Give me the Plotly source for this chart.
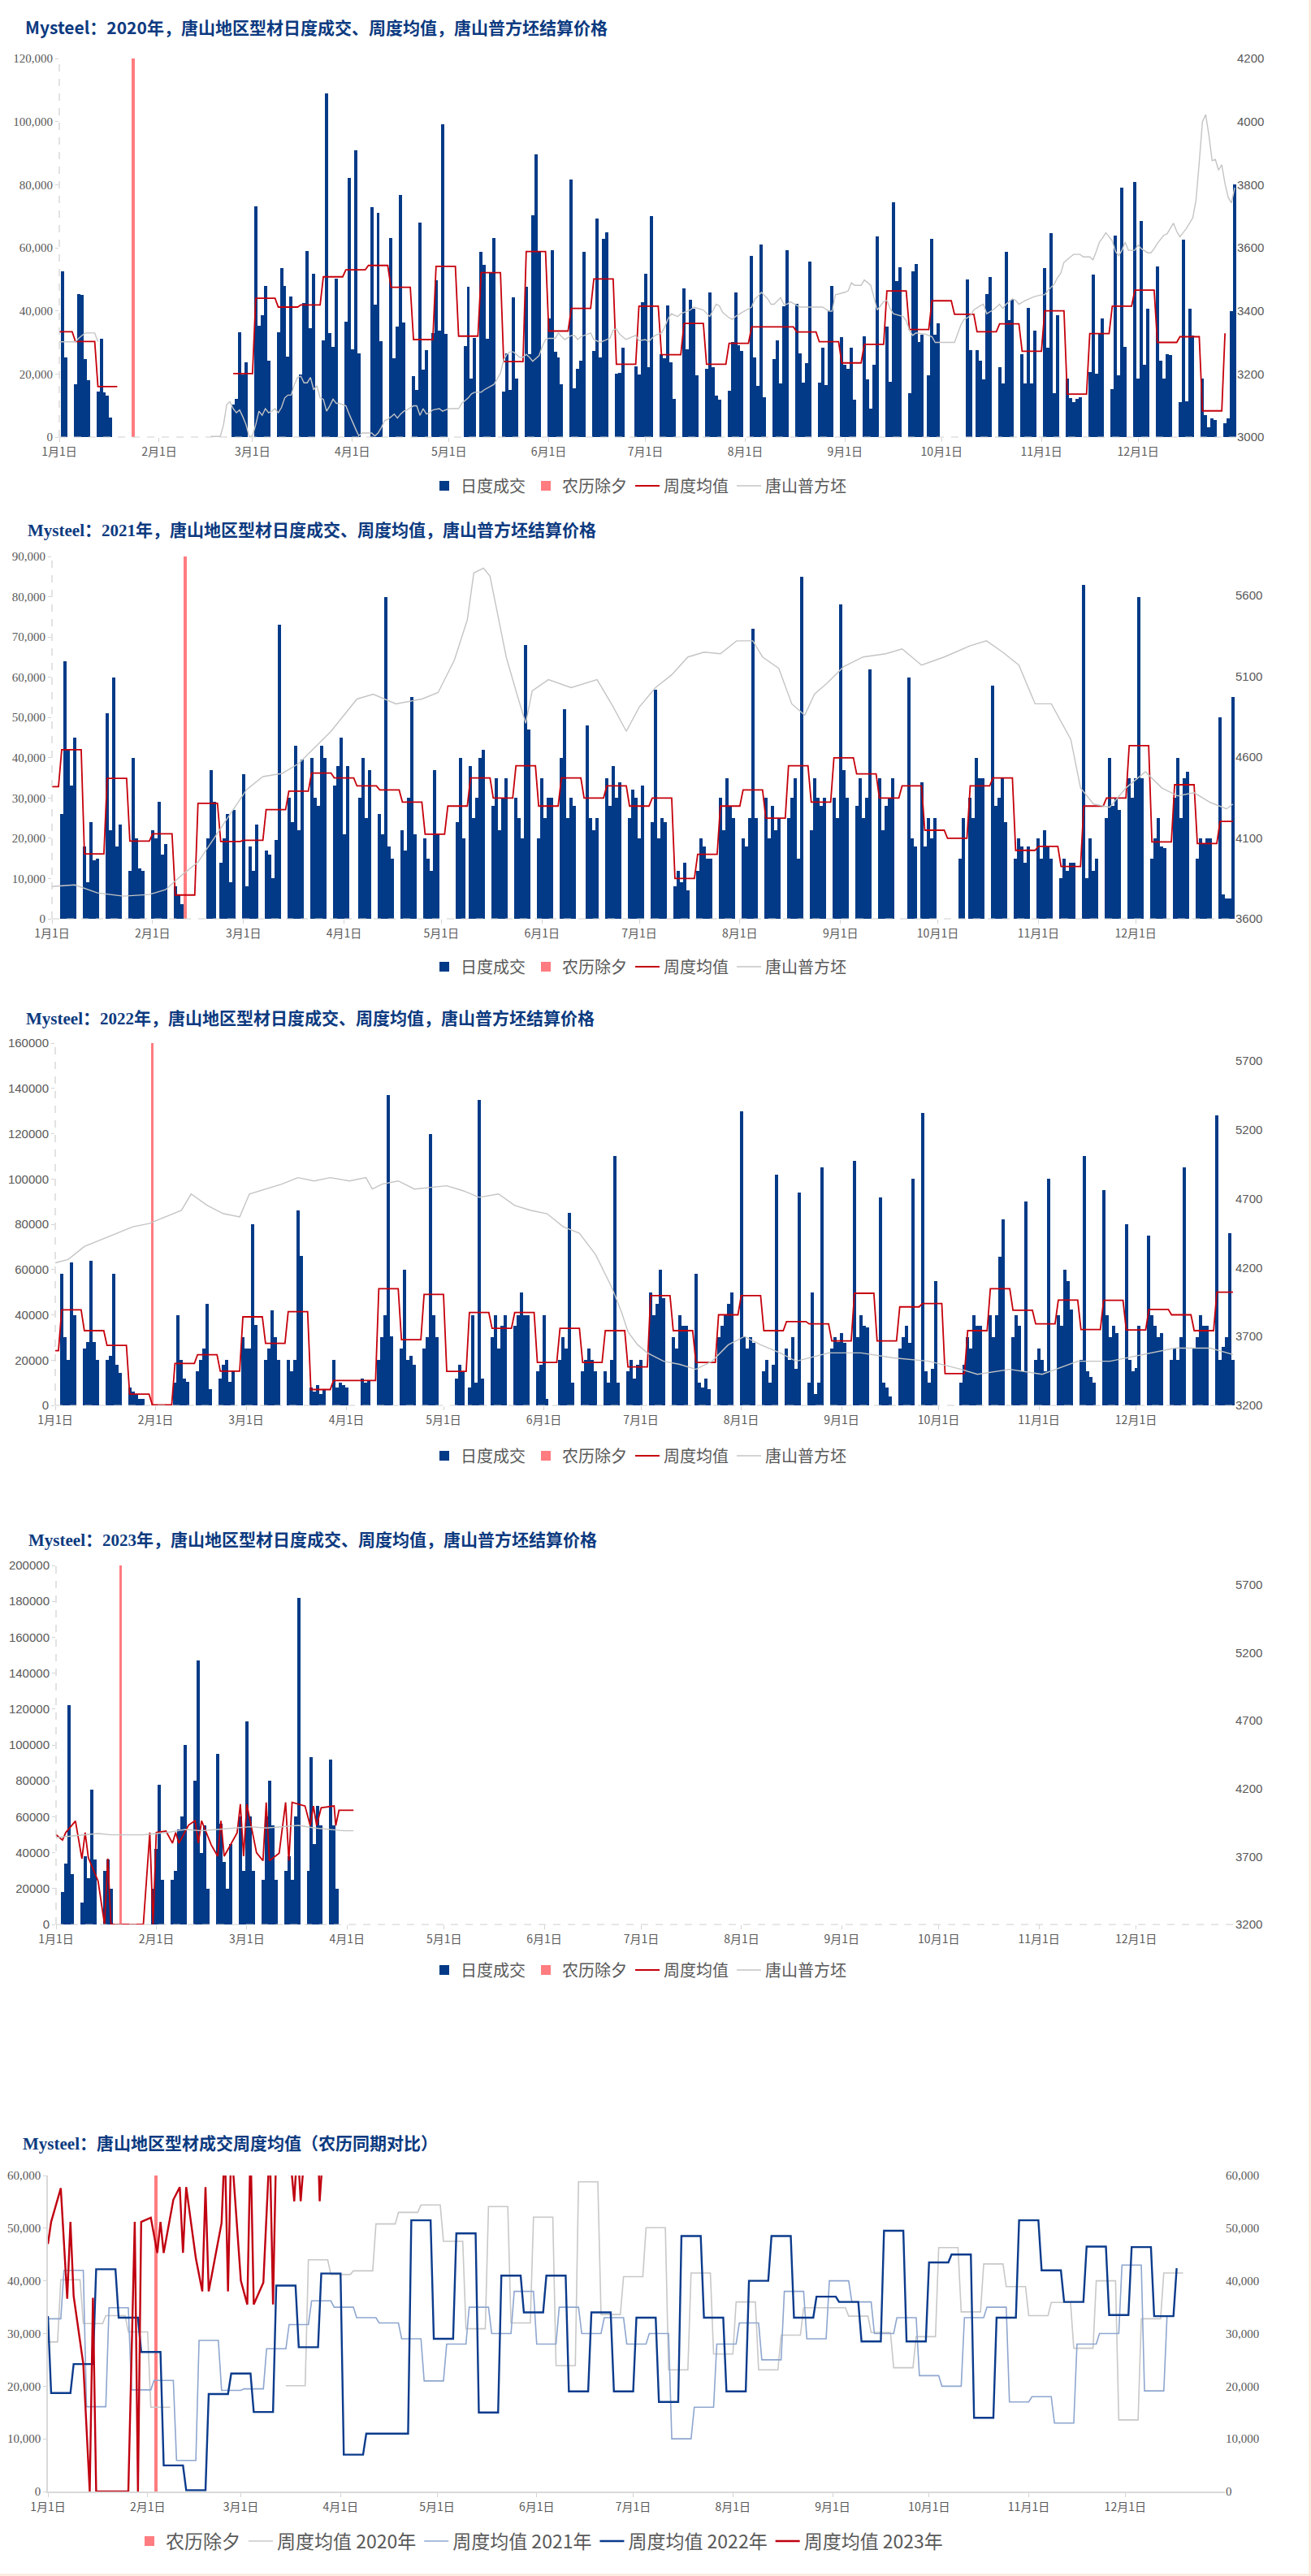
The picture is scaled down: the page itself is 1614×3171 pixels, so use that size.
import datetime as dt
import plotly.graph_objects as go

W, H = 1614, 3171
NAVY = "#023a87"
SALMON = "#ff7c80"
RED = "#c5000b"
GRAY = "#c4c4c4"
TXT = "#595959"
TITLE_C = "#0c3a80"

# ======================= Panel 1 : 2020 =======================
WK20 = ["2019-12-30", "2020-01-06", "2020-01-13", "2020-02-24", "2020-03-02", "2020-03-09", "2020-03-16",
        "2020-03-23", "2020-03-30", "2020-04-06", "2020-04-13", "2020-04-20", "2020-04-27", "2020-05-04",
        "2020-05-11", "2020-05-18", "2020-05-25", "2020-06-01", "2020-06-08", "2020-06-15", "2020-06-22",
        "2020-06-29", "2020-07-06", "2020-07-13", "2020-07-20", "2020-07-27", "2020-08-03", "2020-08-10",
        "2020-08-17", "2020-08-24", "2020-08-31", "2020-09-07", "2020-09-14", "2020-09-21", "2020-09-28",
        "2020-10-05", "2020-10-12", "2020-10-19", "2020-10-26", "2020-11-02", "2020-11-09", "2020-11-16",
        "2020-11-23", "2020-11-30", "2020-12-07", "2020-12-14", "2020-12-21", "2020-12-28"]
DAY20 = [
    [0, 0, 0, 52600, 25300, 0, 0], [16700, 45400, 45150, 24800, 18100, 0, 0], [14500, 31250, 14150, 13200, 6270, 0, 0],
    [10300, 12200, 33300, 19740, 23800, 0, 0], [73200, 35200, 38700, 48000, 24300, 0, 0], [33300, 53650, 48000, 25600, 44600, 0, 0],
    [19800, 42600, 59100, 34600, 51800, 0, 0], [30700, 109000, 33000, 28700, 50100, 0, 0], [36650, 82200, 27700, 91000, 26600, 0, 0],
    [0, 73000, 42100, 71200, 30500, 0, 0], [63200, 25100, 34900, 76800, 36400, 0, 0], [19400, 15000, 68100, 21500, 27600, 0, 32900],
    [49800, 33800, 99100, 32600, 0, 0, 0], [0, 0, 28900, 47700, 18600, 31500, 0], [58800, 54700, 31200, 52100, 63200, 0, 0],
    [14300, 26600, 14850, 44400, 18600, 0, 0], [47700, 26300, 70400, 89700, 58800, 0, 0], [37700, 59300, 27100, 25300, 16700, 0, 0],
    [81700, 15500, 21700, 24300, 58800, 0, 0], [27400, 69400, 25300, 62900, 65000, 0, 0], [20200, 20400, 28400, 0, 0, 0, 22500],
    [19900, 42800, 51800, 22200, 70100, 0, 0], [26350, 25100, 41800, 23800, 12200, 0, 0], [47200, 27900, 43400, 40800, 19700, 0, 0],
    [21700, 45900, 22200, 13200, 11900, 0, 0], [14800, 30200, 45900, 29200, 27400, 0, 0], [57500, 25300, 16100, 61100, 12700, 0, 0],
    [24800, 30700, 17100, 41500, 59300, 0, 0], [42300, 26600, 17300, 23500, 55700, 0, 0], [17300, 28200, 16600, 40300, 48000, 0, 0],
    [31800, 23000, 21700, 28400, 11900, 0, 0], [32000, 18400, 9100, 23000, 63700, 0, 0], [34900, 17600, 74500, 49500, 53900, 0, 0],
    [14000, 52600, 54900, 30200, 32500, 0, 19700], [62900, 32500, 36100, 0, 0, 0, 0], [0, 0, 0, 0, 50000, 27600, 0],
    [27600, 24300, 18400, 45200, 50800, 0, 0], [22200, 17100, 58800, 37200, 43400, 0, 0], [26350, 17100, 41000, 17100, 33800, 0, 0],
    [53650, 28200, 64700, 14000, 38700, 0, 0], [18600, 12400, 11200, 12200, 12700, 0, 0], [20700, 51600, 20200, 32800, 37700, 0, 0],
    [15300, 63950, 19700, 79100, 28700, 0, 0], [80900, 18600, 68600, 23000, 40800, 0, 0], [54200, 24300, 18600, 26350, 26100, 0, 0],
    [11200, 62700, 11400, 40800, 32300, 0, 0], [18600, 7000, 3200, 6000, 5500, 0, 0], [4500, 6000, 40000, 80200, 0, 0, 0]]
AVG20 = [33400, 30300, 16000, 20100, 44000, 41200, 41900, 50800, 53000, 54400, 47500, 30900, 54100, 32000,
         52100, 23900, 58800, 33600, 40800, 50100, 23100, 41500, 26100, 36000, 23100, 29700, 34900, 34900,
         33300, 30200, 23500, 29400, 46300, 34100, 43200, 38900, 33400, 35900, 27200, 40000, 13600, 32800,
         41500, 46600, 30000, 31800, 8300, 32900]
AVG20_END = "2020-12-28"
CNY20 = "2020-01-24"
P20_DAY = [0, 5, 6, 8, 11, 12, 33, 47, 50, 51, 52, 53, 54, 55, 56, 57, 58, 59, 60, 61, 62, 63, 64, 65, 66, 67, 68, 69, 70,
           71, 72, 73, 74, 75, 76, 77, 78, 79, 80, 81, 82, 83, 84, 85, 86, 87, 88, 89, 90, 91, 92, 93, 94, 97, 98, 99, 100,
           101, 102, 103, 104, 105, 106, 107, 108, 110, 111, 112, 113, 114, 115, 116, 118, 119, 120, 121, 124, 125, 127,
           128, 129, 131, 132, 134, 135, 137, 138, 139, 140, 141, 143, 144, 145, 146, 147, 149, 150, 151, 152, 154, 155,
           156, 157, 159, 160, 161, 162, 163, 165, 166, 167, 168, 169, 171, 172, 173, 174, 175, 176, 179, 180, 182, 183,
           184, 185, 187, 188, 189, 190, 192, 193, 194, 196, 197, 200, 202, 203, 204, 205, 206, 208, 209, 210, 212, 215,
           216, 217, 218, 220, 221, 222, 224, 225, 226, 227, 230, 233, 237, 239, 240, 241, 244, 245, 246, 247, 249, 250,
           252, 253, 254, 256, 257, 258, 259, 262, 263, 264, 265, 266, 269, 271, 272, 278, 280, 281, 282, 283, 284, 286,
           287, 288, 290, 291, 292, 293, 294, 296, 297, 298, 300, 303, 305, 306, 307, 309, 310, 311, 312, 314, 315, 317,
           318, 320, 321, 322, 323, 324, 325, 327, 328, 329, 330, 331, 332, 334, 335, 336, 338, 339, 340, 341, 343, 344,
           346, 347, 348, 349, 350, 352, 353, 354, 355, 356, 357, 358, 359, 360, 361, 362, 363, 364, 365]
P20 = [3302, 3302, 3313, 3330, 3330, 3302, 3302, 3002, 3002, 3039, 3103, 3112, 3090, 3077, 3086, 3064, 3039, 3000, 3004,
       3039, 3082, 3069, 3090, 3077, 3082, 3090, 3077, 3094, 3124, 3133, 3133, 3167, 3189, 3193, 3172, 3172, 3189, 3150,
       3163, 3124, 3120, 3082, 3099, 3120, 3107, 3107, 3103, 3099, 3073, 3047, 3026, 3004, 3013, 3013, 3003, 3013, 3030,
       3052, 3056, 3064, 3073, 3060, 3073, 3082, 3086, 3099, 3099, 3069, 3090, 3073, 3077, 3086, 3090, 3082, 3086, 3090,
       3090, 3107, 3124, 3137, 3142, 3142, 3150, 3160, 3167, 3202, 3245, 3262, 3270, 3270, 3253, 3253, 3262, 3253, 3240,
       3258, 3288, 3309, 3313, 3313, 3330, 3318, 3309, 3322, 3322, 3309, 3318, 3322, 3330, 3309, 3305, 3300, 3305, 3313,
       3339, 3343, 3326, 3318, 3309, 3322, 3305, 3309, 3302, 3313, 3322, 3330, 3348, 3373, 3391, 3382, 3391, 3395, 3403,
       3412, 3403, 3382, 3403, 3421, 3416, 3395, 3378, 3373, 3382, 3395, 3412, 3438, 3446, 3459, 3438, 3421, 3421, 3442,
       3421, 3421, 3429, 3412, 3412, 3412, 3399, 3399, 3451, 3459, 3464, 3489, 3481, 3481, 3498, 3481, 3442, 3403, 3429,
       3433, 3408, 3391, 3382, 3369, 3339, 3322, 3330, 3326, 3318, 3300, 3300, 3356, 3373, 3378, 3386, 3403, 3416, 3421,
       3391, 3403, 3412, 3421, 3408, 3421, 3438, 3433, 3421, 3433, 3446, 3451, 3451, 3464, 3485, 3506, 3519, 3554, 3571,
       3579, 3579, 3571, 3571, 3562, 3588, 3618, 3631, 3648, 3622, 3588, 3575, 3592, 3618, 3592, 3592, 3609, 3597, 3584,
       3584, 3597, 3614, 3640, 3644, 3678, 3652, 3635, 3648, 3661, 3695, 3751, 3871, 4000, 4022, 3957, 3876, 3880, 3846,
       3863, 3803, 3760, 3742, 3790]

# ======================= Panel 2 : 2021 =======================
WK21 = ["2020-12-28", "2021-01-04", "2021-01-11", "2021-01-18", "2021-01-25", "2021-02-01", "2021-02-08",
        "2021-02-15", "2021-02-22", "2021-03-01", "2021-03-08", "2021-03-15", "2021-03-22", "2021-03-29",
        "2021-04-05", "2021-04-12", "2021-04-19", "2021-04-26", "2021-05-03", "2021-05-10", "2021-05-17",
        "2021-05-24", "2021-05-31", "2021-06-07", "2021-06-14", "2021-06-21", "2021-06-28", "2021-07-05",
        "2021-07-12", "2021-07-19", "2021-07-26", "2021-08-02", "2021-08-09", "2021-08-16", "2021-08-23",
        "2021-08-30", "2021-09-06", "2021-09-13", "2021-09-20", "2021-09-27", "2021-10-04", "2021-10-11",
        "2021-10-18", "2021-10-25", "2021-11-01", "2021-11-08", "2021-11-15", "2021-11-22", "2021-11-29",
        "2021-12-06", "2021-12-13", "2021-12-20", "2021-12-27"]
DAY21 = [
    [0, 0, 0, 0, 0, 0, 0], [26000, 64000, 42000, 33000, 45000, 0, 0], [18000, 9000, 24000, 14500, 15000, 0, 0],
    [51000, 22000, 60000, 18000, 23500, 0, 0], [12000, 40000, 20000, 12500, 12000, 0, 0], [22000, 20000, 29000, 16000, 18500, 0, 0],
    [8000, 6000, 3700, 0, 0, 0, 0], [0, 0, 0, 20000, 37000, 29100, 0], [14000, 20000, 26000, 9000, 27000, 0, 0],
    [36000, 8000, 18000, 12000, 23500, 0, 0], [17000, 16000, 10000, 19500, 73000, 0, 0], [30000, 24000, 43000, 22000, 39500, 0, 0],
    [40000, 30000, 28000, 43000, 40000, 0, 0], [33000, 38000, 45000, 21000, 38000, 0, 0], [0, 30000, 40000, 25000, 37000, 0, 0],
    [26000, 21000, 80000, 18000, 15000, 0, 0], [22000, 17000, 30000, 55000, 21000, 0, 0], [20000, 15000, 12000, 37000, 21000, 0, 0],
    [0, 0, 0, 24000, 40000, 20000, 0], [38000, 25000, 30000, 40000, 42000, 0, 0], [28000, 35000, 22000, 30000, 35000, 0, 0],
    [30000, 25000, 20000, 68000, 47000, 0, 0], [20000, 35000, 25000, 30000, 30000, 0, 0], [40000, 52000, 25000, 30000, 28000, 0, 0],
    [0, 48000, 25000, 22000, 25000, 0, 0], [35000, 28000, 38000, 30000, 34000, 0, 0], [25000, 32000, 30000, 20000, 33000, 0, 0],
    [24000, 57000, 20000, 25000, 24000, 0, 0], [8000, 12000, 9000, 14000, 7000, 0, 0], [12000, 20000, 18000, 15000, 15000, 0, 0],
    [30000, 22000, 35000, 28000, 25000, 0, 0], [20000, 18000, 25000, 72000, 25000, 0, 0], [30000, 20000, 28000, 22000, 25000, 0, 0],
    [25000, 30000, 35000, 15000, 85000, 0, 0], [22000, 35000, 30000, 28000, 30000, 0, 0], [30000, 25000, 78000, 37000, 30000, 0, 0],
    [28000, 35000, 25000, 30000, 62000, 0, 0], [35000, 22000, 28000, 30000, 35000, 0, 0], [0, 0, 60000, 20000, 18000, 0, 34000],
    [18000, 25000, 20000, 25000, 0, 0, 0], [0, 0, 0, 0, 15000, 25000, 0], [30000, 25000, 40000, 35000, 35000, 0, 0],
    [58000, 28000, 30000, 35000, 24000, 0, 0], [15000, 20000, 18000, 14000, 18000, 0, 0], [20000, 15000, 22000, 18000, 15000, 0, 0],
    [10000, 15000, 12000, 14000, 14000, 0, 0], [83000, 10000, 20000, 12000, 15000, 0, 0], [25000, 40000, 28000, 30000, 27000, 0, 0],
    [35000, 30000, 35000, 80000, 35000, 0, 0], [15000, 20000, 25000, 18000, 17500, 0, 0], [30000, 40000, 25000, 35000, 36500, 0, 0],
    [15000, 20000, 18500, 20000, 20000, 0, 0], [50000, 6000, 5000, 5000, 55000, 0, 0]]
AVG21 = [32800, 42000, 16100, 34900, 19300, 21100, 5900, 28700, 19200, 19500, 27100, 31700, 36200, 35000,
         33000, 32000, 29000, 21000, 28000, 35000, 30000, 38000, 28000, 35000, 30000, 33000, 28000, 30000,
         10000, 16000, 28000, 32000, 25000, 38000, 29000, 40000, 36000, 30000, 33000, 22000, 20000, 33000,
         35000, 17000, 18000, 13000, 28000, 30000, 43000, 19100, 33300, 18700, 24200]
AVG21_END = "2021-12-31"
CNY21 = "2021-02-11"
P21_DAY = [0, 7, 14, 22, 30, 35, 40, 45, 50, 55, 60, 65, 71, 76, 81, 86, 88, 94, 99, 106, 114, 119, 124, 128, 130, 133,
           135, 137, 140, 143, 146, 148, 153, 160, 168, 173, 177, 181, 186, 191, 196, 201, 206, 211, 216, 219, 224, 228,
           232, 235, 239, 244, 250, 257, 262, 268, 275, 283, 288, 293, 298, 303, 308, 314, 317, 321, 326, 331, 337, 342,
           347, 352, 357, 362, 364]
P21 = [3800, 3810, 3760, 3740, 3750, 3780, 3870, 3950, 4100, 4250, 4400, 4480, 4500, 4560, 4660, 4760, 4810, 4960, 4990,
       4930, 4960, 5000, 5200, 5450, 5740, 5770, 5720, 5520, 5220, 5010, 4810, 5010, 5080, 5030, 5080, 4910, 4760, 4910,
       5030, 5110, 5220, 5250, 5240, 5320, 5320, 5220, 5150, 4930, 4860, 4990, 5060, 5160, 5220, 5240, 5270, 5170, 5220,
       5290, 5320, 5250, 5170, 4930, 4930, 4710, 4410, 4310, 4290, 4410, 4510, 4410, 4360, 4380, 4320, 4280, 4310]

# ======================= Panel 3 : 2022 =======================
WK22 = ["2021-12-27", "2022-01-03", "2022-01-10", "2022-01-17", "2022-01-24", "2022-01-31", "2022-02-07",
        "2022-02-14", "2022-02-21", "2022-02-28", "2022-03-07", "2022-03-14", "2022-03-21", "2022-03-28",
        "2022-04-04", "2022-04-11", "2022-04-18", "2022-04-25", "2022-05-02", "2022-05-09", "2022-05-16",
        "2022-05-23", "2022-05-30", "2022-06-06", "2022-06-13", "2022-06-20", "2022-06-27", "2022-07-04",
        "2022-07-11", "2022-07-18", "2022-07-25", "2022-08-01", "2022-08-08", "2022-08-15", "2022-08-22",
        "2022-08-29", "2022-09-05", "2022-09-12", "2022-09-19", "2022-09-26", "2022-10-03", "2022-10-10",
        "2022-10-17", "2022-10-24", "2022-10-31", "2022-11-07", "2022-11-14", "2022-11-21", "2022-11-28",
        "2022-12-05", "2022-12-12", "2022-12-19", "2022-12-26"]
DAY22 = [
    [0, 0, 0, 0, 0, 0, 0], [58000, 30000, 20000, 63000, 40000, 0, 0], [25000, 28000, 64000, 28000, 20000, 0, 0],
    [20000, 22000, 58000, 18000, 14500, 0, 0], [8000, 6000, 5000, 3000, 2750, 0, 0], [0, 0, 0, 0, 0, 0, 0],
    [10000, 40000, 20000, 12000, 10500, 0, 0], [15000, 20000, 25000, 45000, 7000, 0, 0], [12000, 18000, 20000, 10500, 15000, 0, 0],
    [30000, 25000, 25000, 80000, 35500, 0, 0], [20000, 25000, 42000, 30000, 20000, 0, 0], [20000, 15000, 20000, 86000, 66000, 0, 0],
    [8000, 6000, 9000, 5000, 7000, 0, 0], [20000, 8000, 10000, 9000, 8000, 0, 0], [0, 0, 12000, 10000, 11000, 0, 0],
    [20000, 30000, 40000, 137000, 30500, 0, 0], [25000, 60000, 20000, 22000, 18000, 0, 0], [25000, 30000, 120000, 40000, 30000, 0, 0],
    [0, 0, 0, 12000, 18000, 15000, 0], [8000, 40000, 10000, 135000, 12000, 0, 0], [30000, 40000, 25000, 35000, 40000, 0, 0],
    [35000, 40000, 50000, 40000, 40000, 0, 0], [15000, 18000, 40000, 3000, 0, 0, 0], [20000, 30000, 25000, 85000, 10000, 0, 0],
    [15000, 20000, 25000, 20000, 15000, 0, 0], [15000, 10000, 20000, 110000, 10000, 0, 0], [15000, 20000, 12000, 18000, 20000, 0, 0],
    [50000, 40000, 45000, 60000, 47500, 0, 0], [30000, 25000, 40000, 35000, 35000, 0, 0], [58000, 10000, 8000, 12000, 7000, 0, 0],
    [30000, 35000, 40000, 45000, 50000, 0, 0], [130000, 30000, 25000, 30000, 27500, 0, 0], [15000, 20000, 10000, 18000, 102000, 0, 0],
    [25000, 20000, 30000, 16000, 94000, 0, 0], [10000, 50000, 5000, 10000, 105000, 0, 0], [25000, 30000, 28000, 32000, 27500, 0, 0],
    [108000, 30000, 40000, 35000, 34500, 0, 0], [0, 92000, 10000, 8000, 4000, 0, 0], [25000, 30000, 35000, 27500, 100000, 0, 0],
    [129000, 15000, 10000, 16000, 55000, 0, 0], [0, 0, 0, 0, 0, 10000, 18000], [30000, 25000, 40000, 35000, 35000, 0, 0],
    [40000, 30000, 40000, 65500, 82000, 0, 0], [30000, 40000, 35000, 15000, 90000, 0, 0], [20000, 25000, 20000, 15000, 100000, 0, 0],
    [40000, 35000, 60000, 55000, 42500, 0, 0], [20000, 110000, 15000, 12500, 10000, 0, 0], [95000, 40000, 30000, 35000, 32000, 0, 0],
    [80000, 20000, 15000, 16500, 35000, 0, 0], [75000, 40000, 35000, 30000, 32000, 0, 0], [20000, 25000, 20000, 30000, 105000, 0, 0],
    [25000, 30000, 40000, 35000, 35000, 0, 0], [128000, 20000, 26000, 30000, 76000, 20000, 0]]
AVG22 = [24200, 42200, 33000, 26500, 4950, 250, 18500, 22400, 15100, 39100, 27400, 41400, 7000, 11000,
         11000, 51500, 29000, 49000, 15000, 41000, 34000, 41000, 19000, 34000, 19000, 33000, 17000, 48500,
         33000, 19000, 40000, 48500, 33000, 37000, 36000, 28500, 49500, 28500, 43500, 45000, 14000, 33000,
         51500, 42000, 36000, 46500, 33500, 46400, 33300, 42400, 40000, 33000, 50000]
AVG22_END = "2022-12-31"
CNY22 = "2022-01-31"
P22_DAY = [0, 4, 9, 14, 19, 24, 29, 34, 39, 42, 47, 52, 57, 60, 65, 70, 75, 80, 85, 91, 96, 98, 101, 106, 111, 116, 121,
           126, 131, 137, 142, 147, 152, 157, 162, 167, 172, 175, 177, 180, 183, 188, 193, 198, 203, 208, 213, 218, 224,
           229, 239, 249, 259, 270, 280, 285, 295, 305, 316, 326, 336, 346, 357, 364]
P22 = [4235, 4260, 4354, 4402, 4450, 4497, 4521, 4569, 4616, 4735, 4652, 4592, 4569, 4735, 4771, 4807, 4854, 4830, 4854,
       4830, 4854, 4771, 4807, 4830, 4771, 4783, 4795, 4759, 4711, 4735, 4652, 4616, 4592, 4497, 4450, 4295, 4057, 3878,
       3735, 3640, 3581, 3521, 3498, 3462, 3521, 3640, 3700, 3640, 3581, 3521, 3581, 3581, 3545, 3521, 3462, 3426, 3462,
       3426, 3521, 3521, 3569, 3616, 3616, 3569]

# ======================= Panel 4 : 2023 =======================
WK23 = ["2023-01-02", "2023-01-09", "2023-01-16", "2023-01-30", "2023-02-06", "2023-02-13", "2023-02-20",
        "2023-02-27", "2023-03-06", "2023-03-13", "2023-03-20", "2023-03-27"]
DAY23 = [
    [0, 18000, 34000, 122000, 28000, 0, 0], [12000, 38000, 26000, 75000, 36000, 0, 0], [30000, 36000, 20000, 0, 0, 0, 0],
    [0, 20000, 42000, 78000, 25000, 0, 0], [25000, 30000, 53000, 60000, 100000, 0, 0], [80000, 147000, 40000, 55000, 20000, 0, 0],
    [95000, 56000, 35000, 20000, 45000, 0, 0], [60000, 30000, 113000, 60000, 30000, 0, 0], [25000, 60000, 80000, 55000, 25000, 0, 0],
    [30000, 38000, 25000, 60000, 182000, 0, 0], [30000, 93000, 45000, 66000, 55000, 0, 0], [92000, 55000, 20000, 0, 0, 0, 0]]
CNY23 = "2023-01-21"
AVG23_DAY = [0, 2, 3, 6, 8, 9, 10, 13, 15, 16, 17, 27, 29, 30, 31, 34, 36, 37, 38, 41, 43, 44, 45, 48, 50, 51, 52, 56,
             57, 58, 59, 62, 64, 65, 66, 69, 71, 72, 73, 77, 78.6, 79.6, 80.6, 82, 86, 86.5, 87.5, 92]
AVG23 = [50000, 47000, 51200, 57600, 36600, 51200, 37100, 24200, 0, 36800, 0, 0, 51200, 0, 51200, 52000, 45300, 51200,
         45300, 55400, 57800, 45300, 57800, 44300, 38000, 57800, 38000, 51000, 67000, 38000, 67000, 40000, 35500, 68000,
         35500, 39700, 68000, 35500, 68000, 66000, 55100, 66000, 55100, 65000, 66000, 55100, 63600, 63600]
P23_DAY = [0, 4, 9, 13, 17, 27, 31, 35, 40, 45, 50, 55, 60, 65, 70, 75, 80, 85, 89, 92]
P23 = [3840, 3850, 3860, 3870, 3860, 3860, 3870, 3880, 3900, 3890, 3900, 3910, 3920, 3910, 3920, 3930, 3910, 3900,
       3890, 3890]

# ======================= Panel 5 : lunar-aligned comparison =======================
PREV20_WK = ["2019-12-09", "2019-12-16", "2019-12-23"]
PREV20 = [28400, 40200, 31900]
PREV22_WK = ["2021-12-13", "2021-12-20"]
PREV22 = [33300, 18700]
SHIFT20, SHIFT21, SHIFT22 = 20, 2, 13      # days added so that the Spring Festivals line up
END20, END21, END22 = 353, 348, 351
C23_DAY = [0, 1, 4, 6, 7, 8, 11, 13, 14, 15, 25, 27, 28, 29, 32, 34, 35, 36, 39, 41, 42, 43, 46, 48, 49, 50, 54, 55,
           56, 57, 60, 62, 63, 64, 67, 69, 70, 71, 75, 76.6, 77.6, 78.6, 80, 84, 84.5, 85.5]
C23 = [47000, 51200, 57600, 36600, 51200, 37100, 24200, 0, 36800, 0, 0, 51200, 0, 51200, 52000, 45300, 51200, 45300,
       55400, 57800, 45300, 57800, 44300, 38000, 57800, 38000, 51000, 66000, 38000, 66000, 40000, 35500, 66000, 35500,
       39700, 66000, 35500, 66000, 66000, 55100, 66000, 55100, 66000, 66000, 55100, 64000]
CNY_CMP = 33.6

MONTH_TEXT = [f"{m}月1日" for m in range(1, 13)]
DAY_MS = 86400000


def D(s):
    return dt.date.fromisoformat(s)


def bars_from_weeks(weeks, days):
    xs, ys = [], []
    for w, vals in zip(weeks, days):
        st = D(w)
        for i, v in enumerate(vals):
            if v:
                xs.append(st + dt.timedelta(days=i))
                ys.append(v)
    return xs, ys


def weekly_steps(weeks, avgs, year, last):
    xs, ys = [], []
    prev = None
    first = dt.date(year, 1, 1)
    last = D(last)
    for w, a in zip(weeks, avgs):
        st = D(w)
        if prev is not None and (st - prev).days != 7:
            xs.append(st - dt.timedelta(days=1))
            ys.append(None)
        for i in range(7):
            day = st + dt.timedelta(days=i)
            if first <= day <= last:
                xs.append(day)
                ys.append(a)
        prev = st
    return xs, ys


def day_line(year, days, vals, gap=7):
    xs, ys = [], []
    base = dt.datetime(year, 1, 1)
    prev = None
    for dd, v in zip(days, vals):
        if prev is not None and dd - prev > gap:
            xs.append(base + dt.timedelta(days=dd - 1))
            ys.append(None)
        xs.append(base + dt.timedelta(days=dd))
        ys.append(v)
        prev = dd
    return xs, ys


def cmp_line(weeks, avgs, year, shift, end):
    base = dt.date(2020, 1, 1)
    j1 = dt.date(year, 1, 1)
    xs, ys = [], []
    prev = None
    for w, a in zip(weeks, avgs):
        st = D(w)
        k0 = (st - j1).days + shift
        if prev is not None and (st - prev).days != 7:
            xs.append(base + dt.timedelta(days=k0 - 1))
            ys.append(None)
        for i in range(7):
            k = k0 + i
            if 0 <= k <= end:
                xs.append(base + dt.timedelta(days=k))
                ys.append(a)
        prev = st
    return xs, ys


fig = go.Figure()

PANELS = [
    ("legend", "x", "y", "y2", WK20, DAY20, AVG20, AVG20_END, CNY20, 120000, P20_DAY, P20, 2020, 10),
    ("legend2", "x2", "y3", "y4", WK21, DAY21, AVG21, AVG21_END, CNY21, 90000, P21_DAY, P21, 2021, 40),
    ("legend3", "x3", "y5", "y6", WK22, DAY22, AVG22, AVG22_END, CNY22, 160000, P22_DAY, P22, 2022, 40),
    ("legend4", "x4", "y7", "y8", WK23, DAY23, None, None, CNY23, 200000, P23_DAY, P23, 2023, 40),
]
for lg, xa, ya, yb, wk, days, avg, aend, cny, ymax, pd_, pv, yr, gp in PANELS:
    bx, by = bars_from_weeks(wk, days)
    fig.add_trace(go.Bar(x=bx, y=by, width=DAY_MS, marker=dict(color=NAVY, line=dict(width=0)),
                         name="日度成交", xaxis=xa, yaxis=ya, legend=lg))
    fig.add_trace(go.Bar(x=[D(cny)], y=[ymax], width=DAY_MS * 0.9, marker=dict(color=SALMON, line=dict(width=0)),
                         name="农历除夕", xaxis=xa, yaxis=ya, legend=lg))
    if avg is not None:
        wx, wy = weekly_steps(wk, avg, yr, aend)
    else:
        wx, wy = day_line(yr, AVG23_DAY, AVG23, gap=100)
    fig.add_trace(go.Scatter(x=wx, y=wy, mode="lines", line=dict(color=RED, width=1.8), name="周度均值",
                             xaxis=xa, yaxis=ya, legend=lg))
    px_, py_ = day_line(yr, pd_, pv, gap=gp)
    fig.add_trace(go.Scatter(x=px_, y=py_, mode="lines", line=dict(color=GRAY, width=1.4), name="唐山普方坯",
                             xaxis=xa, yaxis=yb, legend=lg))

base20 = dt.datetime(2020, 1, 1)
fig.add_trace(go.Bar(x=[base20 + dt.timedelta(days=CNY_CMP)], y=[60000], width=DAY_MS * 0.8,
                     marker=dict(color=SALMON, line=dict(width=0)), name="农历除夕",
                     xaxis="x5", yaxis="y9", legend="legend5"))
for wk, av, yr, sh, en, col, wd, nm in [
        (PREV20_WK + WK20, PREV20 + AVG20, 2020, SHIFT20, END20, "#c8c8c8", 1.6, "周度均值 2020年"),
        (WK21, AVG21, 2021, SHIFT21, END21, "#8ea6cf", 1.6, "周度均值 2021年"),
        (PREV22_WK + WK22, PREV22 + AVG22, 2022, SHIFT22, END22, "#0b3b8c", 2.4, "周度均值 2022年")]:
    cx, cy = cmp_line(wk, av, yr, sh, en)
    fig.add_trace(go.Scatter(x=cx, y=cy, mode="lines", line=dict(color=col, width=wd), name=nm,
                             xaxis="x5", yaxis="y10", legend="legend5"))
fig.add_trace(go.Scatter(x=[base20 + dt.timedelta(days=v) for v in C23_DAY], y=C23, mode="lines",
                         line=dict(color="#c00010", width=2.4), name="周度均值 2023年",
                         xaxis="x5", yaxis="y10", legend="legend5"))

XFONT = dict(family="Liberation Sans Narrow, Noto Sans CJK SC", size=14, color=TXT)
YSERIF = dict(family="Liberation Serif, Noto Sans CJK SC", size=15, color=TXT)
YSANS = dict(family="Liberation Sans, Noto Sans CJK SC", size=15, color=TXT)


def xdom(a, b):
    return [a / W, b / W]


def ydom(top, bot):
    return [1 - bot / H, 1 - top / H]


def xcfg(domain, year, anchor, end=None):
    return dict(domain=domain, anchor=anchor, type="date", automargin=False,
                range=[dt.datetime(year, 1, 1), end or dt.datetime(year, 12, 31, 12)],
                tickvals=[dt.date(year, m, 1) for m in range(1, 13)], ticktext=MONTH_TEXT,
                showgrid=False, zeroline=False, showline=False, ticks="outside", ticklen=5,
                tickcolor="#d4d4d4", tickfont=XFONT)


def ycfg(domain, rng, dtick, fmt, anchor, font):
    return dict(domain=domain, anchor=anchor, range=rng, dtick=dtick, tick0=rng[0], tickformat=fmt,
                automargin=False, showgrid=False, zeroline=False, showline=False, ticks="outside", ticklen=4,
                tickcolor="#d4d4d4", tickfont=font)


def y2cfg(rng, dtick, over, anchor, font):
    return dict(overlaying=over, side="right", anchor=anchor, range=rng, dtick=dtick, tick0=rng[0],
                automargin=False, showgrid=False, zeroline=False, showline=False, ticks="", tickfont=font)


P = {
    1: dict(x=(73, 1522), y=(72, 538)),
    2: dict(x=(64, 1520), y=(685, 1131)),
    3: dict(x=(68, 1520), y=(1284, 1730)),
    4: dict(x=(69, 1520), y=(1927, 2369)),
    5: dict(x=(59, 1508), y=(2678, 3067)),
}

layout = dict(width=W, height=H, margin=dict(l=0, r=0, t=0, b=0, pad=0, autoexpand=False),
              paper_bgcolor="white", plot_bgcolor="white", barmode="overlay", bargap=0, showlegend=True)

layout["xaxis"] = xcfg(xdom(*P[1]["x"]), 2020, "y")
layout["yaxis"] = ycfg(ydom(*P[1]["y"]), [0, 120000], 20000, ",d", "x", YSERIF)
layout["yaxis2"] = y2cfg([3000, 4200], 200, "y", "x", YSANS)

layout["xaxis2"] = xcfg(xdom(*P[2]["x"]), 2021, "y3")
layout["yaxis3"] = ycfg(ydom(*P[2]["y"]), [0, 90000], 10000, ",d", "x2", YSERIF)
layout["yaxis4"] = y2cfg([3600, 5842], 500, "y3", "x2", YSANS)

layout["xaxis3"] = xcfg(xdom(*P[3]["x"]), 2022, "y5")
layout["yaxis5"] = ycfg(ydom(*P[3]["y"]), [0, 160000], 20000, "d", "x3", YSANS)
layout["yaxis6"] = y2cfg([3200, 5831], 500, "y5", "x3", YSANS)

layout["xaxis4"] = xcfg(xdom(*P[4]["x"]), 2023, "y7")
layout["yaxis7"] = ycfg(ydom(*P[4]["y"]), [0, 200000], 20000, "d", "x4", YSANS)
layout["yaxis8"] = y2cfg([3200, 5844], 500, "y7", "x4", YSANS)

layout["xaxis5"] = xcfg(xdom(*P[5]["x"]), 2020, "y9", end=dt.datetime(2021, 1, 1))
layout["xaxis5"].update(showline=True, linecolor="#d9d9d9", linewidth=1.5)
layout["yaxis9"] = ycfg(ydom(*P[5]["y"]), [0, 60000], 10000, ",d", "x5", YSERIF)
layout["yaxis9"].update(showline=True, linecolor="#d9d9d9", linewidth=1.5)
layout["yaxis10"] = y2cfg([0, 60000], 10000, "y9", "x5", YSERIF)
layout["yaxis10"]["tickformat"] = ",d"

shapes = []
for xa, ya in [("x", "y"), ("x2", "y3"), ("x3", "y5"), ("x4", "y7")]:
    shapes.append(dict(type="line", xref=f"{xa} domain", yref=f"{ya} domain", x0=0, x1=1, y0=0, y1=0,
                       line=dict(color="#d0d0d0", width=1.2, dash="dash")))
    shapes.append(dict(type="line", xref=f"{xa} domain", yref=f"{ya} domain", x0=0, x1=0, y0=0, y1=1,
                       line=dict(color="#d0d0d0", width=1.2, dash="dash")))
shapes.append(dict(type="line", xref="paper", yref="paper", x0=1 - 1.5 / W, x1=1 - 1.5 / W, y0=0, y1=1,
                   line=dict(color="#fbe3d3", width=2)))
shapes.append(dict(type="line", xref="paper", yref="paper", x0=0, x1=1, y0=1.5 / H, y1=1.5 / H,
                   line=dict(color="#fbe3d3", width=2)))
layout["shapes"] = shapes

SERIF_T = "Liberation Serif, Noto Sans CJK SC"
TITLES = [
    (29, 33, "Mysteel：2020年，唐山地区型材日度成交、周度均值，唐山普方坯结算价格", "Liberation Sans Narrow, Noto Sans CJK SC"),
    (32, 653, "Mysteel：2021年，唐山地区型材日度成交、周度均值，唐山普方坯结算价格", SERIF_T),
    (30, 1254, "Mysteel：2022年，唐山地区型材日度成交、周度均值，唐山普方坯结算价格", SERIF_T),
    (33, 1896, "Mysteel：2023年，唐山地区型材日度成交、周度均值，唐山普方坯结算价格", SERIF_T),
    (26, 2639, "Mysteel：唐山地区型材成交周度均值（农历同期对比）", SERIF_T),
]
layout["annotations"] = [
    dict(text=f"<b>{t}</b>", x=x / W, y=1 - y / H, xref="paper", yref="paper", xanchor="left",
         yanchor="middle", showarrow=False, font=dict(family=f, size=21, color=TITLE_C))
    for x, y, t, f in TITLES]

for key, yy, xx, fs in [("legend", 598, 787, 20), ("legend2", 1190, 787, 20), ("legend3", 1792, 787, 20),
                        ("legend4", 2425, 787, 20), ("legend5", 3128, 665, 23)]:
    layout[key] = dict(orientation="h", x=xx / W, y=1 - yy / H, xanchor="center", yanchor="middle",
                       font=dict(family="Noto Sans CJK SC", size=fs, color=TXT), bgcolor="rgba(0,0,0,0)",
                       itemwidth=30, tracegroupgap=0)

fig.update_layout(**layout)
fig.write_html("out.html", config={"displayModeBar": False},
               post_script="document.body.style.margin='0';document.body.style.overflow='hidden';")
